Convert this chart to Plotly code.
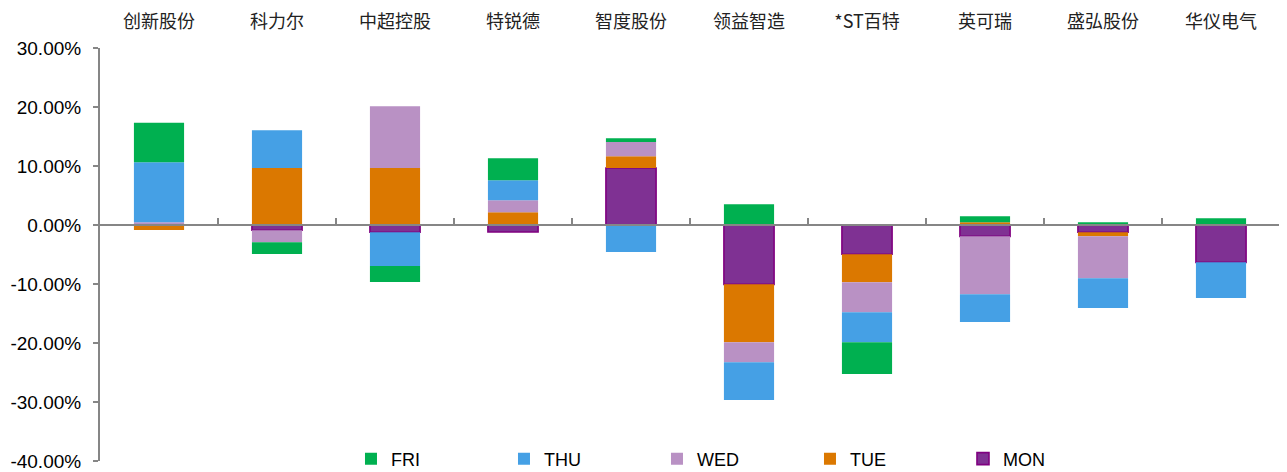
import plotly.graph_objects as go

categories = ["创新股份", "科力尔", "中超控股", "特锐德", "智度股份",
              "领益智造", "*ST百特", "英可瑞", "盛弘股份", "华仪电气"]

# daily changes, percent (None = no move)
mon = [None, -0.90, -1.24, -1.19, 9.66, -10.06, -4.97, -1.92, -1.24, -6.33]
tue = [-0.85, 9.66, 9.66, 2.15, 1.98, -9.83, -4.75, 0.45, -0.68, None]
wed = [0.45, -2.03, 10.45, 2.03, 2.43, -3.39, -5.08, -9.83, -7.12, None]
thu = [10.20, 6.38, -5.70, 3.39, -4.58, -6.38, -5.08, -4.69, -5.03, -6.05]
fri = [6.70, -1.98, -2.70, 3.73, 0.62, 3.50, -5.37, 1.02, 0.45, 1.13]

y_ticks = [30, 20, 10, 0, -10, -20, -30, -40]

series = [
    ("MON", mon, "#7F3193", "#800080", 1.6),
    ("TUE", tue, "#DB7800", "#DB7800", 0),
    ("WED", wed, "#B991C4", "#B991C4", 0),
    ("THU", thu, "#45A0E5", "#45A0E5", 0),
    ("FRI", fri, "#00B050", "#00B050", 0),
]

fig = go.Figure()
for name, vals, fill, line, lw in series:
    fig.add_trace(go.Bar(
        name=name, x=categories, y=vals,
        marker=dict(color=fill, line=dict(color=line, width=lw)),
    ))

# helper trace to carry the top category labels
fig.add_trace(go.Scatter(x=categories, y=[None] * len(categories), xaxis="x2",
                         showlegend=False, hoverinfo="skip", mode="markers"))

grey = "#868686"
fig.update_layout(
    width=1279, height=464,
    margin=dict(l=92, r=7, t=40, b=11, autoexpand=False),
    paper_bgcolor="white", plot_bgcolor="white",
    barmode="relative", bargap=0.575,
    xaxis=dict(type="category", categoryarray=categories, categoryorder="array",
               anchor="free", position=40 / 70, side="bottom", automargin=False,
               showline=True, linecolor=grey, linewidth=2,
               ticks="inside", ticklen=6, tickwidth=2, tickcolor=grey,
               tickson="boundaries", showticklabels=False, showgrid=False,
               range=[-0.5, 9.5]),
    xaxis2=dict(type="category", categoryarray=categories, categoryorder="array",
                overlaying="x", side="top", anchor="y", showline=False, automargin=False,
                ticks="", showgrid=False, range=[-0.5, 9.5], ticklabelstandoff=15,
                tickfont=dict(family="Noto Sans CJK SC", size=18, color="#222222")),
    yaxis=dict(range=[-40, 30], tickvals=y_ticks, automargin=False,
               ticktext=[f"{v:.2f}%" for v in y_ticks],
               showline=True, linecolor=grey, linewidth=2,
               ticks="outside", ticklen=5, tickwidth=2, tickcolor=grey,
               showgrid=False, zeroline=False, ticklabelstandoff=8,
               tickfont=dict(family="Liberation Sans, Arial", size=19, color="black")),
    legend=dict(orientation="h", traceorder="reversed", x=0.2127, xanchor="left",
                y=0.005, yanchor="middle", entrywidth=108, entrywidthmode="pixels",
                bgcolor="rgba(0,0,0,0)", itemwidth=30, tracegroupgap=0,
                font=dict(family="Liberation Sans Narrow, Liberation Sans", size=18, color="black")),
    showlegend=True,
)

fig.write_html("out.html")
